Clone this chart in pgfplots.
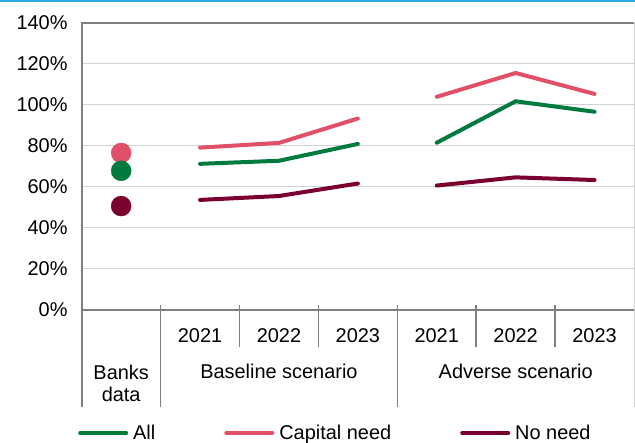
\documentclass[border=0pt]{standalone}
\usepackage{pgfplots}
\pgfplotsset{compat=1.18}
\usepackage{fontspec}
\setmainfont{Liberation Sans}

\definecolor{allgreen}{RGB}{0,122,61}
\definecolor{capneed}{RGB}{224,80,104}
\definecolor{noneed}{RGB}{122,0,48}
\definecolor{topcyan}{RGB}{41,171,226}
\definecolor{axisgray}{RGB}{128,128,128}
\definecolor{gridgray}{RGB}{210,210,210}

\newcommand\lblfont{\fontsize{20}{22}\selectfont}

\begin{document}
\begin{tikzpicture}[x=1bp,y=1bp]
  % picture frame: 635 x 443, axis origin at (81.7, 310) from top-left
  \useasboundingbox (-81.7,-133) rectangle (553.3,310);
  \draw[topcyan, line width=2bp] (-81.7,309) -- (553.3,309);

  \begin{axis}[
      at={(0,0)}, anchor=south west,
      scale only axis,
      width=552.3bp, height=287bp,
      xmin=-0.5, xmax=6.5,
      ymin=0, ymax=140,
      axis line style={draw=none},
      ytick={0,20,...,140},
      yticklabel={\pgfmathprintnumber{\tick}\%},
      /pgf/number format/assume math mode=true,
      yticklabel style={font=\lblfont, inner sep=0pt, xshift=-14bp},
      xtick={1,...,6},
      xticklabels={2021,2022,2023,2021,2022,2023},
      xticklabel style={font=\lblfont, inner sep=0pt, yshift=-18bp},
      major tick style={draw=none},
      ymajorgrids,
      grid style={gridgray, line width=1bp},
      clip=false,
      legend style={
        at={(-0.0067,-0.4286)}, anchor=west,
        draw=none, fill=none, inner sep=0pt,
        font=\lblfont,
        legend columns=3,
        nodes={inner sep=0pt, anchor=west},
        /tikz/every odd column/.style={column sep=5bp},
        /tikz/every even column/.style={column sep=69bp},
      },
      legend cell align=left,
      legend image code/.code={
        \draw[#1, line width=4bp, line cap=round] (2bp,0bp) -- (48bp,0bp);
      },
    ]
    % Banks data
    \addplot[only marks, mark=*, mark size=10bp, color=capneed, forget plot] coordinates {(0,76.6)};
    \addplot[only marks, mark=*, mark size=10bp, color=allgreen, forget plot] coordinates {(0,67.9)};
    \addplot[only marks, mark=*, mark size=10bp, color=noneed, forget plot] coordinates {(0,50.7)};
    % Baseline scenario
    \addplot[capneed, line width=4bp, line cap=round, forget plot] coordinates {(1,79.2) (2,81.5) (3,93.4)};
    \addplot[allgreen, line width=4bp, line cap=round, forget plot] coordinates {(1,71.3) (2,72.8) (3,81.0)};
    \addplot[noneed, line width=4bp, line cap=round, forget plot] coordinates {(1,53.7) (2,55.6) (3,61.7)};
    % Adverse scenario
    \addplot[capneed, line width=4bp, line cap=round, forget plot] coordinates {(4,104.0) (5,115.6) (6,105.4)};
    \addplot[allgreen, line width=4bp, line cap=round, forget plot] coordinates {(4,81.6) (5,101.8) (6,96.7)};
    \addplot[noneed, line width=4bp, line cap=round, forget plot] coordinates {(4,60.7) (5,64.7) (6,63.4)};

    \addlegendimage{allgreen}
    \addlegendentry{All}
    \addlegendimage{capneed}
    \addlegendentry{Capital need}
    \addlegendimage{noneed}
    \addlegendentry{No need}
  \end{axis}

  % frame of the plot area
  \draw[gridgray, line width=1bp] (552.3,287) -- (552.3,-97);
  \draw[axisgray, line width=2bp] (552.3,287) -- (0,287) -- (0,-97);
  \draw[axisgray, line width=2bp] (0,0) -- (552.3,0);
  % category separators
  \foreach \k in {1,4} \draw[axisgray, line width=1.5bp] (78.9*\k,5) -- (78.9*\k,-97);
  \foreach \k in {2,3,5,6} \draw[axisgray, line width=1.5bp] (78.9*\k,5) -- (78.9*\k,-37);
  % group labels
  \node[font=\lblfont, align=center, inner sep=0pt] at (39.45,-73) {Banks\\data};
  \node[font=\lblfont, inner sep=0pt] at (197.25,-61) {Baseline scenario};
  \node[font=\lblfont, inner sep=0pt] at (434,-61) {Adverse scenario};
\end{tikzpicture}
\end{document}
